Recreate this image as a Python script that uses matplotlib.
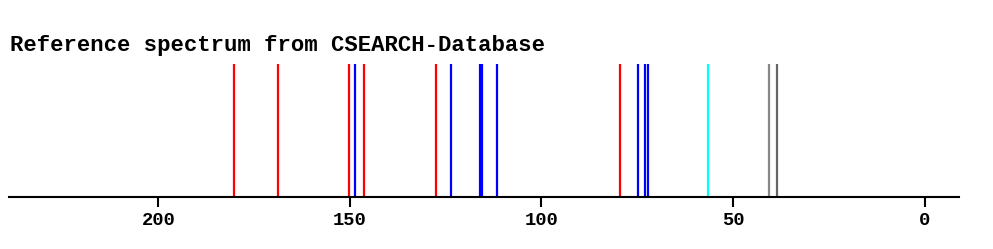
import matplotlib
matplotlib.use("Agg")
import matplotlib.pyplot as plt

# 13C shifts (ppm), grouped by colour as in the reference
red_shifts = [180.2, 168.7, 150.2, 146.3, 127.5, 79.5]
blue_shifts = [148.8, 123.6, 116.0, 115.6, 111.7, 74.8, 73.0, 72.2]
cyan_shifts = [56.6]
grey_light_shifts = [40.7]
grey_dark_shifts = [38.5]
tick_vals = [200, 150, 100, 50, 0]

font = "Liberation Mono"

fig = plt.figure(figsize=(9.93, 2.49), dpi=100)
ax = fig.add_axes([9 / 993, 52 / 249, 950 / 993, 133 / 249])

ax.vlines(red_shifts, 0, 1, colors="#ff0000", linewidth=1.6)
ax.vlines(blue_shifts, 0, 1, colors="#0000ff", linewidth=1.6)
ax.vlines(cyan_shifts, 0, 1, colors="#00ffff", linewidth=1.6)
ax.vlines(grey_light_shifts, 0, 1, colors="#888888", linewidth=1.6)
ax.vlines(grey_dark_shifts, 0, 1, colors="#666666", linewidth=1.6)

ax.set_xlim(239, -9)
ax.set_ylim(0, 1)
for s in ["top", "left", "right"]:
    ax.spines[s].set_visible(False)
ax.spines["bottom"].set_linewidth(1.5)
ax.set_yticks([])
ax.set_xticks(tick_vals)
ax.set_xticklabels([str(v) for v in tick_vals], family=font,
                   fontweight="bold", fontsize=13.5)
ax.tick_params(axis="x", length=7, width=1.5, pad=4)

fig.text(10 / 993, 1 - 45 / 249, "Reference spectrum from CSEARCH-Database",
         family=font, fontweight="bold", fontsize=16, va="center", ha="left")

fig.savefig("out.png", dpi=100)
